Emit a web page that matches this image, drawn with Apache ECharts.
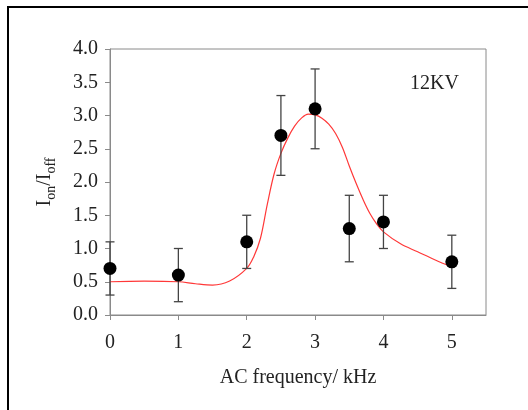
<!DOCTYPE html>
<html>
<head>
<meta charset="utf-8">
<script src="https://cdn.jsdelivr.net/npm/echarts@6/dist/echarts.min.js"></script>
<style>
  html, body { margin: 0; padding: 0; background: #fff; }
  #chart { width: 528px; height: 410px; }
</style>
</head>
<body>
<div id="chart"></div>
<script>
// measured points
const freq = [0, 1, 2, 2.5, 3, 3.5, 4, 5];
const ratio = [0.7, 0.6, 1.1, 2.7, 3.1, 1.3, 1.4, 0.8];
const errLow = [0.3, 0.2, 0.7, 2.1, 2.5, 0.8, 1.0, 0.4];
const errHigh = [1.1, 1.0, 1.5, 3.3, 3.7, 1.8, 1.8, 1.2];

// fitted curve
const fitX = [0, 0.5, 1, 1.25, 1.5, 1.75, 2, 2.1, 2.2, 2.3, 2.4, 2.5, 2.6, 2.7, 2.8, 2.9, 3.0,
  3.1, 3.2, 3.3, 3.4, 3.5, 3.6, 3.7, 3.8, 3.9, 4.0, 4.25, 4.5, 4.75, 5.0];
const fitY = [0.50, 0.51, 0.50, 0.47, 0.45, 0.51, 0.70, 0.87, 1.15, 1.66, 2.12, 2.43, 2.66, 2.84, 2.96, 3.02, 3.01,
  2.96, 2.87, 2.73, 2.52, 2.24, 1.98, 1.74, 1.53, 1.37, 1.25, 1.07, 0.95, 0.83, 0.72];

const xTickValues = [0, 1, 2, 3, 4, 5];
const xRange = [0, 5.5];
const yTicks = [0, 4, 0.5];

const serif = "'Liberation Serif', 'Times New Roman', serif";

let myChart = echarts.init(document.getElementById("chart"));

let option = {
  animation: false,
  grid: {
    left: 110,
    right: 42,
    top: 49,
    bottom: 95,
    show: true,
    borderColor: "#8a8a8a",
    borderWidth: 1,
  },
  graphic: [
    {
      type: "rect",
      shape: { x: 8, y: 7, width: 700, height: 700 },
      style: { fill: "none", stroke: "#000", lineWidth: 2 },
      silent: true,
    },
    {
      type: "text",
      left: 410,
      top: 74,
      style: { text: "12KV", font: "20px " + serif, fill: "#222" },
    },
  ],
  xAxis: {
    type: "value",
    min: xRange[0],
    max: xRange[1],
    interval: 1,
    name: "AC frequency/ kHz",
    nameLocation: "middle",
    nameGap: 53,
    nameTextStyle: { fontFamily: serif, fontSize: 20, color: "#222" },
    axisLine: { lineStyle: { color: "#8a8a8a" } },
    axisTick: {
      show: true, length: 5, inside: false, customValues: xTickValues,
      lineStyle: { color: "#8a8a8a" },
    },
    axisLabel: {
      fontFamily: serif, fontSize: 20, color: "#222", margin: 18,
      customValues: xTickValues,
    },
    splitLine: { show: false },
  },
  yAxis: {
    type: "value",
    min: yTicks[0],
    max: yTicks[1],
    interval: yTicks[2],
    name: "{a|I}{b|on}{a|/I}{b|off}",
    nameLocation: "middle",
    nameGap: 52,
    nameTextStyle: {
      color: "#222",
      rich: {
        a: { fontFamily: serif, fontSize: 20, color: "#222" },
        b: { fontFamily: serif, fontSize: 14, color: "#222", padding: [12, 0, 0, 0] },
      },
    },
    axisLine: { show: true, lineStyle: { color: "#8a8a8a" } },
    axisTick: { show: true, length: 5, inside: false, lineStyle: { color: "#8a8a8a" } },
    axisLabel: {
      fontFamily: serif, fontSize: 20, color: "#222", margin: 12,
      formatter: function (v) { return v.toFixed(1); },
    },
    splitLine: { show: false },
  },
  series: [
    {
      name: "fit",
      type: "line",
      data: fitX.map(function (x, i) { return [x, fitY[i]]; }),
      smooth: 0.35,
      showSymbol: false,
      lineStyle: { color: "#ff3838", width: 1.2 },
      z: 2,
    },
    {
      name: "error",
      type: "custom",
      data: freq.map(function (x, i) { return [x, errLow[i], errHigh[i]]; }),
      clip: false,
      renderItem: function (params, api) {
        const lo = api.coord([api.value(0), api.value(1)]);
        const hi = api.coord([api.value(0), api.value(2)]);
        const w = 4.5;
        const st = { stroke: "#444", lineWidth: 1.3 };
        return {
          type: "group",
          children: [
            { type: "line", shape: { x1: lo[0], y1: lo[1], x2: hi[0], y2: hi[1] }, style: st },
            { type: "line", shape: { x1: lo[0] - w, y1: lo[1], x2: lo[0] + w, y2: lo[1] }, style: st },
            { type: "line", shape: { x1: hi[0] - w, y1: hi[1], x2: hi[0] + w, y2: hi[1] }, style: st },
          ],
        };
      },
      z: 3,
    },
    {
      name: "data",
      type: "scatter",
      data: freq.map(function (x, i) { return [x, ratio[i]]; }),
      symbol: "circle",
      symbolSize: 13,
      clip: false,
      itemStyle: { color: "#000", opacity: 1 },
      z: 4,
    },
  ],
};

myChart.setOption(option);
</script>
</body>
</html>
